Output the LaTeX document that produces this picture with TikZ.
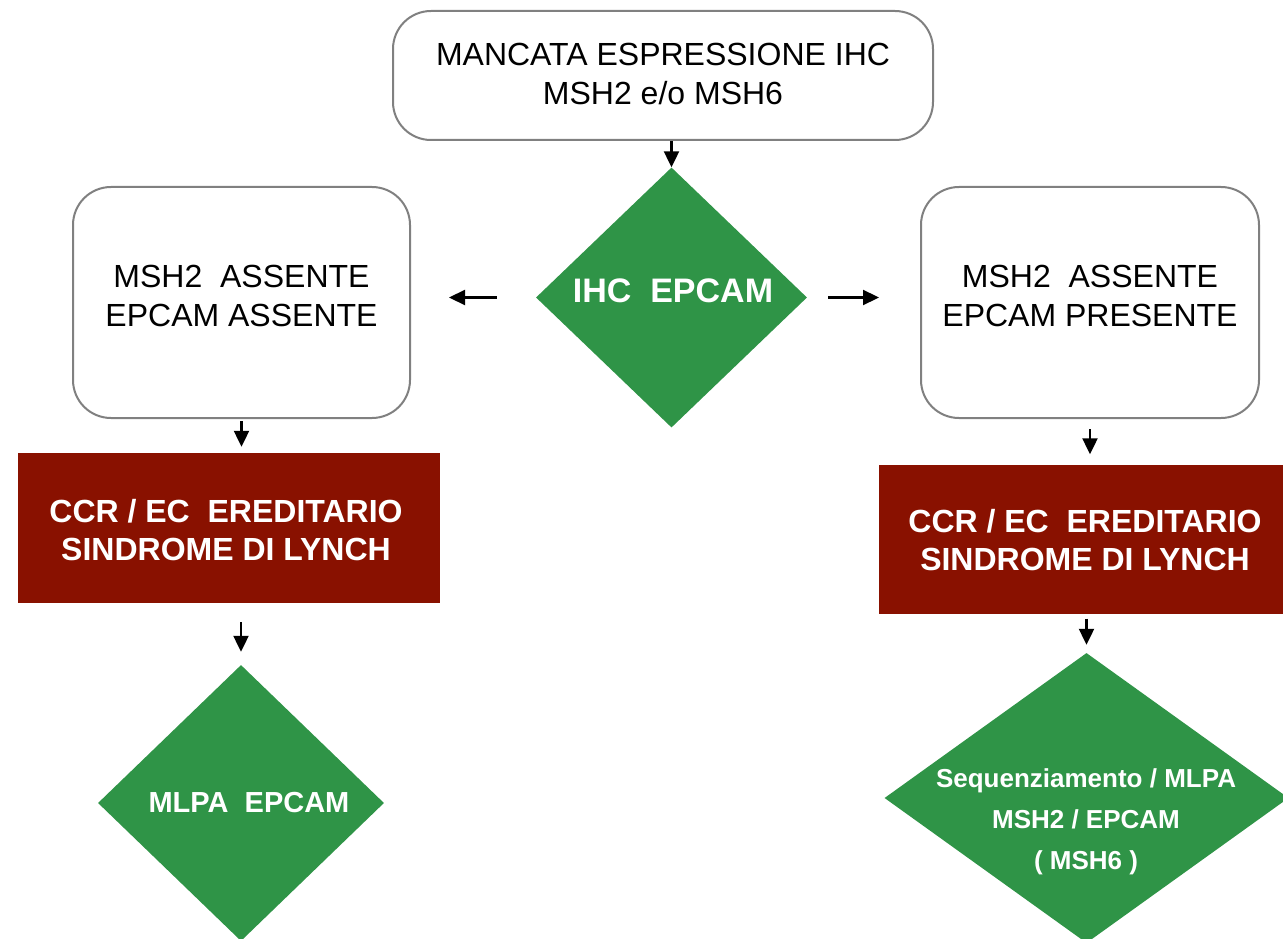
\documentclass[tikz,border=0pt]{standalone}
\usepackage{fontspec}
\setmainfont{Liberation Sans}
\usetikzlibrary{arrows.meta,shapes.geometric}
\definecolor{leafgreen}{RGB}{47,148,71}
\definecolor{deepred}{RGB}{137,17,0}
\definecolor{rimgray}{RGB}{128,128,128}
\tikzset{
  softbox/.style={draw=rimgray, line width=2pt, rounded corners=38pt, fill=white, inner sep=0pt},
  boxtext/.style={align=center, inner sep=0pt, font=\fontsize{32}{38.5}\selectfont},
  redbox/.style={fill=deepred, inner sep=0pt},
  redtext/.style={align=center, inner sep=0pt, text=white, font=\bfseries\fontsize{32}{38}\selectfont},
  gem/.style={diamond, fill=leafgreen, inner sep=0pt},
  gemtext/.style={align=center, inner sep=0pt, text=white},
  arr/.style={-{Triangle[length=16pt,width=15pt]}, line width=2.2pt}
}
\begin{document}
\begin{tikzpicture}[x=1pt, y=-1pt]
  \useasboundingbox (0,0) rectangle (1283,939);
  \clip (0,0) rectangle (1283,939);

  % starting box
  \node[softbox, minimum width=540pt, minimum height=129pt] (top) at (663,75.5) {};
  \node[boxtext] (toptext) at (663,74) {MANCATA ESPRESSIONE IHC\\MSH2 e/o MSH6};

  % central decision
  \node[gem, minimum width=271pt, minimum height=260pt] (epc) at (671.5,297.5) {};
  \node[gemtext, anchor=base, font=\bfseries\fontsize{34}{40}\selectfont] (epctext) at (673,302) {IHC\ \ EPCAM};

  % left branch
  \node[softbox, minimum width=337pt, minimum height=231pt] (lbox) at (241.5,302.5) {};
  \node[boxtext] (lboxtext) at (241.5,296) {MSH2\ \ ASSENTE\\EPCAM ASSENTE};
  \node[redbox, minimum width=422pt, minimum height=150pt] (lred) at (229,528) {};
  \node[redtext] (lredtext) at (226,530) {CCR / EC\ \ EREDITARIO\\SINDROME DI LYNCH};
  \node[gem, minimum width=286pt, minimum height=276pt] (ldia) at (241,803) {};
  \node[gemtext, anchor=base, font=\bfseries\fontsize{29}{34}\selectfont] (ldiatext) at (249,812) {MLPA\ \ EPCAM};

  % right branch
  \node[softbox, minimum width=338pt, minimum height=231pt] (rbox) at (1090,302.5) {};
  \node[boxtext] (rboxtext) at (1090,296) {MSH2\ \ ASSENTE\\EPCAM PRESENTE};
  \node[redbox, minimum width=406pt, minimum height=149pt] (rred) at (1082,539) {};
  \node[redtext] (rredtext) at (1085,540.5) {CCR / EC\ \ EREDITARIO\\SINDROME DI LYNCH};
  \node[gem, minimum width=404pt, minimum height=290pt] (rdia) at (1086.5,798) {};
  \node[gemtext, font=\bfseries\fontsize{26}{41}\selectfont] (rdiatext) at (1086,822) {Sequenziamento / MLPA\\MSH2 / EPCAM\\( MSH6 )};

  % connectors
  \draw[arr] (top.south -| epc.north) -- (epc.north);
  \draw[arr, shorten <=39pt, shorten >=38pt] (epc.west) -- (epc.west -| lbox.east);
  \draw[arr, shorten <=21pt, shorten >=41pt] (epc.east) -- (epc.east -| rbox.west);
  \draw[arr, shorten <=2pt, shorten >=6pt] (lbox.south) -- (lbox.south |- lred.north);
  \draw[arr, shorten <=19pt, shorten >=13pt] (ldia.north |- lred.south) -- (ldia.north);
  \draw[arr, shorten <=10pt, shorten >=10pt] (rbox.south) -- (rbox.south |- rred.north);
  \draw[arr, shorten <=5pt, shorten >=8pt] (rdia.north |- rred.south) -- (rdia.north);
\end{tikzpicture}
\end{document}
